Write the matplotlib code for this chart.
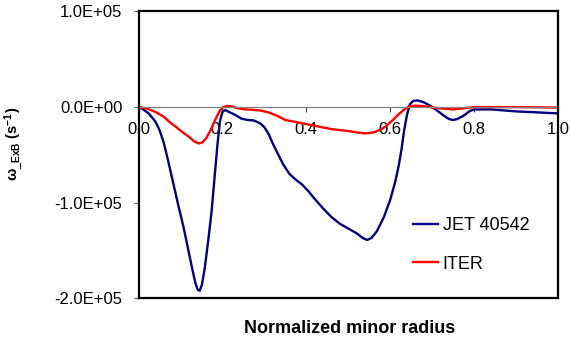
import matplotlib
matplotlib.use("Agg")
import matplotlib.pyplot as plt
from matplotlib.ticker import FuncFormatter

plt.rcParams['font.family'] = ['Liberation Sans', 'DejaVu Sans']
plt.rcParams['mathtext.fontset'] = 'custom'
plt.rcParams['mathtext.rm'] = 'Liberation Sans:bold'
plt.rcParams['mathtext.it'] = 'Liberation Sans:bold'
plt.rcParams['mathtext.bf'] = 'Liberation Sans:bold'
plt.rcParams['mathtext.default'] = 'rm'

# radius and omega_ExB (1/s) (values in 1e3 /s)
jet_r = [0, 0.01, 0.025, 0.04, 0.05, 0.06, 0.07, 0.083, 0.095, 0.107, 0.118, 0.127,
         0.135, 0.141, 0.146, 0.151, 0.158, 0.166, 0.174, 0.181, 0.188, 0.194, 0.2,
         0.207, 0.215, 0.23, 0.245, 0.26, 0.275, 0.29, 0.3, 0.31, 0.32, 0.33, 0.345,
         0.36, 0.375, 0.39, 0.405, 0.42, 0.44, 0.46, 0.48, 0.5, 0.52, 0.535, 0.545,
         0.555, 0.568, 0.585, 0.6, 0.612, 0.62, 0.627, 0.633, 0.64, 0.647, 0.655,
         0.665, 0.68, 0.695, 0.71, 0.725, 0.74, 0.75, 0.76, 0.775, 0.79, 0.8, 0.84,
         0.9, 0.95, 1.0]
jet_w = [0, -2, -7, -15, -24, -37, -55, -80, -103, -125, -148, -167,
         -183, -191, -192, -186, -168, -140, -110, -75, -40, -15, -5,
         -3, -5, -8, -12, -13.5, -14, -17, -21, -28, -38, -47, -60,
         -70, -76, -81, -88, -96, -106, -115, -122, -127, -132, -137, -139,
         -137, -130, -115, -97, -78, -62, -44, -25, -8, 3, 6.5,
         7, 5, 1.5, -3, -8, -12.5, -13.5, -12.5, -9, -4, -2.5, -2.4,
         -4.5, -5.5, -6.6]

iter_r = [0, 0.02, 0.04, 0.06, 0.075, 0.09, 0.107, 0.12, 0.133, 0.143, 0.152, 0.162,
          0.172, 0.182, 0.192, 0.2, 0.21, 0.22, 0.235, 0.25, 0.27, 0.29, 0.31, 0.33,
          0.35, 0.38, 0.425, 0.46, 0.5, 0.52, 0.54, 0.56, 0.575, 0.59, 0.605, 0.62,
          0.635, 0.645, 0.66, 0.68, 0.71, 0.75, 0.78, 0.8, 0.9, 1.0]
iter_w = [0, -1.5, -5, -10, -16, -21, -27, -31, -36, -38, -37, -32,
          -24, -14, -5, -0.5, 1.2, 0.8, -1, -2.2, -2.8, -3.5, -5.5, -9,
          -13.5, -16, -20, -23, -25, -26.5, -27.5, -26.5, -24, -20, -14, -7.5,
          -2, 0.8, 1.5, 1, -1, -2.4, -1, 0, 0, -0.5]

x_ticks = [0.0, 0.2, 0.4, 0.6, 0.8, 1.0]
y_ticks = [-2e5, -1e5, 0, 1e5]

fig = plt.figure(figsize=(5.71, 3.37), dpi=100)
pos = [0.2426, 0.1148, 0.7346, 0.8511]
ax = fig.add_axes(pos)

ax.plot(jet_r, [w * 1e3 for w in jet_w], color='#000080', lw=1.7, label='JET 40542')
ax.plot(iter_r, [w * 1e3 for w in iter_w], color='#ff0000', lw=1.7, label='ITER')

ax.set_xlim(0, 1)
ax.set_ylim(-2e5, 1e5)
ax.set_xticks(x_ticks)
ax.set_yticks(y_ticks)
ax.xaxis.set_major_formatter(FuncFormatter(lambda v, p: '%.1f' % v))
ax.yaxis.set_major_formatter(FuncFormatter(lambda v, p: ('%.1E' % v).replace('-0.0', '0.0')))

# x axis sits on the zero line
ax.spines['bottom'].set_position(('data', 0))
ax.spines['bottom'].set_color('#808080')
ax.spines['bottom'].set_linewidth(0.9)
for s in ['top', 'right', 'left']:
    ax.spines[s].set_visible(False)
ax.tick_params(axis='x', direction='out', length=3.5, width=0.8, color='#404040',
               pad=7, labelsize=12)
ax.tick_params(axis='y', direction='out', length=3.5, width=0.8, color='#606060',
               pad=8, labelsize=12)

ax.set_ylabel(r'$\omega_{\_ExB}\ (s^{-1})$', fontsize=10.5)
ax.yaxis.set_label_coords(-0.268, 0.54)
fig.text(0.613, 0.013, 'Normalized minor radius', ha='center', va='baseline',
         fontsize=13, fontweight='bold')

ax.legend(loc='center left', bbox_to_anchor=(0.654, 0.186), frameon=False,
          fontsize=13, handlelength=1.4, handletextpad=0.25, labelspacing=1.2,
          borderpad=0, borderaxespad=0)

# box around the plot area
frame = fig.add_axes(pos, facecolor='none')
frame.set_xticks([])
frame.set_yticks([])
for s in frame.spines.values():
    s.set_color('black')
    s.set_linewidth(1.6)

fig.savefig('out.png', dpi=100)
